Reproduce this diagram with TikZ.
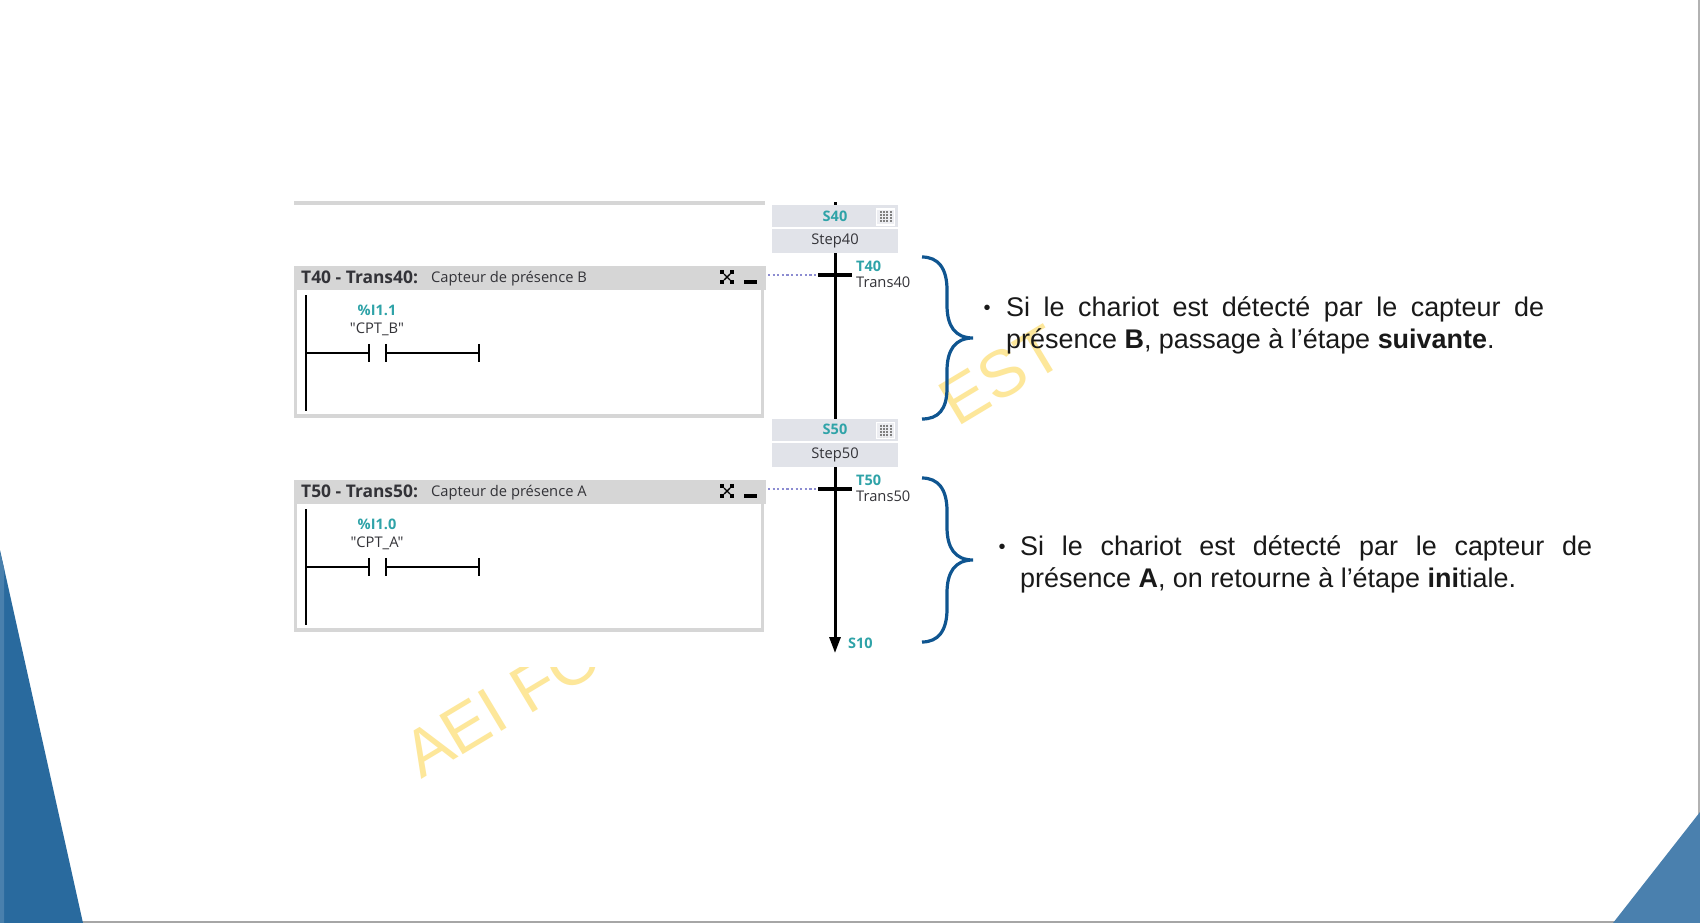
\documentclass[tikz,border=0pt]{standalone}
\usepackage{fontspec}
\setmainfont{Liberation Sans}
\newfontfamily\uifont{Open Sans}
\usetikzlibrary{arrows.meta}
\definecolor{tealtxt}{HTML}{2FA3A8}
\definecolor{uitxt}{HTML}{333338}
\definecolor{stepfill}{HTML}{E1E3E9}
\definecolor{panelgrey}{HTML}{D6D6D6}
\definecolor{bracecol}{HTML}{0F5590}
\definecolor{wm}{HTML}{FDE79A}
\definecolor{leftblue}{HTML}{296A9E}
\definecolor{rightblue}{HTML}{4A80AE}
\tikzset{
  x=1pt,y=-1pt,
  panel/.style={draw=panelgrey,line width=3.5pt,fill=white,minimum width=467pt,minimum height=147.5pt,inner sep=0pt,anchor=north west},
  panelhead/.style={fill=panelgrey,minimum width=472pt,minimum height=24pt,inner sep=0pt,anchor=north west},
  stepcell/.style={fill=stepfill,minimum width=126pt,inner sep=0pt},
  wire/.style={black,line width=3pt},
  thinwire/.style={black,line width=2.8pt},
  uitext/.style={inner sep=0pt,text=uitxt,font=\uifont\fontsize{14.7}{16}\selectfont},
  headtext/.style={inner sep=0pt,anchor=base west,text=uitxt,font=\uifont\fontsize{17.4}{18}\selectfont},
  tealtext/.style={inner sep=0pt,text=tealtxt,font=\uifont\fontsize{14.5}{16}\selectfont\bfseries},
  brace/.style={draw=bracecol,line width=3.2pt},
  bodytext/.style={inner sep=0pt,anchor=north west,align=justify,text=black!90,font=\fontsize{26.95}{31.6}\selectfont},
  bullettext/.style={inner sep=0pt,anchor=base,text=black!90,font=\fontsize{20}{24}\selectfont},
  watermark/.style={inner sep=0pt,text=wm,rotate=31,font=\fontsize{66}{70}\selectfont},
  dots/.style={draw=black!40!blue!45,line width=2.2pt,dash pattern=on 2.2pt off 2.4pt}
}
\newcommand{\gridicon}[2]{%
  \draw[draw=white,line width=1.2pt,fill=stepfill!60!white] (#1-9,#2-8) rectangle (#1+9,#2+8);
  \foreach \i in {-5,-1.7,1.7,5} \draw[black!50,line width=2pt,dash pattern=on 2pt off 1pt] (#1+\i,#2-6) -- (#1+\i,#2+6);
}
\newcommand{\expandicon}[2]{%
  \draw[black,line width=1.4pt] (#1-3,#2-3) -- (#1+3,#2+3) (#1-3,#2+3) -- (#1+3,#2-3);
  \foreach \a/\b in {-1/-1,-1/1,1/-1,1/1} \fill[black] (#1+\a*5-1.6,#2+\b*5-1.6) rectangle (#1+\a*5+1.6,#2+\b*5+1.6);
}
\begin{document}
\begin{tikzpicture}
\useasboundingbox (0,0) rectangle (1700,923);
\fill[white] (0,0) rectangle (1700,923);
% frame of the slide
\fill[black!35] (0,921) rectangle (1700,923);
\fill[black!30] (1698,0) rectangle (1700,923);
% corners
\fill[leftblue] (0,550) -- (83,923) -- (0,923) -- cycle;
\fill[leftblue!85!white] (0,552) -- (4,568) -- (4,923) -- (0,923) -- cycle;
\fill[rightblue] (1700,812) -- (1700,923) -- (1613,923) -- cycle;
% watermark
\node[watermark] (wmest) at (1001,375) {EST};
\begin{scope}
  \clip (380,667) rectangle (640,800);
  \node[watermark,anchor=base west] (wmaei) at (421,780) {AEI FO};
\end{scope}
% top rule
\coordinate (ruleL) at (294,203);
\coordinate (ruleR) at (765,203);
\draw[panelgrey,line width=3.5pt] (ruleL) -- (ruleR);
% panels
\foreach \n/\dy/\tn/\sn/\cap/\addr/\sym in {1/0/T40/Trans40/B/\%I1.1/"CPT\_B",2/214/T50/Trans50/A/\%I1.0/"CPT\_A"}{
  \begin{scope}[yshift=-\dy pt]
  \node[panel] (panel\n) at (293.5,266.5) {};
  \node[panelhead] (head\n) at (294,266) {};
  \node[headtext] (title\n) at (301,283.5) {\textbf{\tn{} - \sn:}};
  \node[uitext,anchor=base west] (desc\n) at (431,282) {Capteur de présence \cap};
  \expandicon{727}{277}
  \fill[black] (744,279.5) rectangle (757,283.5);
  \node[tealtext] (addr\n) at (377,310) {\addr};
  \node[uitext] (sym\n) at (377,329) {\sym};
  \coordinate (railT\n) at (306,295);
  \coordinate (railB\n) at (306,411);
  \coordinate (railM\n) at (306,353);
  \node[minimum height=18pt,minimum width=0pt,inner sep=0pt] (conL\n) at (369,353) {};
  \node[minimum height=18pt,minimum width=0pt,inner sep=0pt] (conR\n) at (386,353) {};
  \node[minimum height=18pt,minimum width=0pt,inner sep=0pt] (endR\n) at (479,353) {};
  \draw[thinwire] (railT\n) -- (railB\n);
  \draw[thinwire] (railM\n) -- (conL\n.center);
  \draw[thinwire] (conR\n.center) -- (endR\n.center);
  \draw[thinwire] (conL\n.north) -- (conL\n.south);
  \draw[thinwire] (conR\n.north) -- (conR\n.south);
  \draw[thinwire] (endR\n.north) -- (endR\n.south);
  \end{scope}
}
% steps
\node[stepcell,minimum height=22pt] (s40) at (835,216) {};
\node[stepcell,minimum height=24pt] (st40) at (835,241) {};
\node[stepcell,minimum height=22pt] (s50) at (835,430) {};
\node[stepcell,minimum height=24pt] (st50) at (835,455) {};
\node[tealtext] at (835,216) {S40};
\node[uitext] at (835,240.5) {Step40};
\node[tealtext] at (835,429.5) {S50};
\node[uitext] at (835,454.5) {Step50};
\gridicon{885.5}{217}
\gridicon{885.5}{430.5}
\coordinate (top40) at (835,202);
\draw[wire] (top40) -- (s40.north);
% vertical lines
\coordinate (arrowtip) at (835,653);
\draw[wire] (st40.south) -- (s50.north);
\draw[wire,-{Triangle[length=16pt,width=11pt]}] (st50.south) -- (arrowtip);
% transitions
\node[fill=black,minimum width=34pt,minimum height=3.8pt,inner sep=0pt] (bar40) at (835,275) {};
\node[fill=black,minimum width=34pt,minimum height=3.8pt,inner sep=0pt] (bar50) at (835,489) {};
\coordinate (dot40) at (768,275);
\coordinate (dot50) at (768,489);
\draw[dots] (dot40) -- (bar40.west);
\draw[dots] (dot50) -- (bar50.west);
\node[tealtext,anchor=west] (lt40) at (856,266.5) {T40};
\node[uitext,anchor=west] (ln40) at (856,282) {Trans40};
\node[tealtext,anchor=west] (lt50) at (856,480) {T50};
\node[uitext,anchor=west] (ln50) at (856,496) {Trans50};
\node[tealtext,anchor=west] (ls10) at (848,643) {S10};
% braces
\draw[brace] (922,257) .. controls (938,257) and (947,268) .. (947,290) -- (947,305)
  .. controls (947,326) and (955,338) .. (973,338)
  .. controls (955,338) and (947,350) .. (947,371) -- (947,388)
  .. controls (947,410) and (938,419) .. (922,419);
\draw[brace] (922,478) .. controls (938,478) and (947,489) .. (947,511) -- (947,527)
  .. controls (947,548) and (955,560) .. (973,560)
  .. controls (955,560) and (947,572) .. (947,593) -- (947,609)
  .. controls (947,631) and (938,642) .. (922,642);
% body text
\node[bullettext] (bu1) at (987,314.5) {•};
\node[bodytext,text width=538pt] (txt1) at (1006,296.5) {Si le chariot est détecté par le capteur de présence \textbf{B}, passage à l’étape \textbf{suivante}.};
\node[bullettext] (bu2) at (1002,553.5) {•};
\node[bodytext,text width=572pt] (txt2) at (1020,535.5) {Si le chariot est détecté par le capteur de présence \textbf{A}, on retourne à l’étape \textbf{ini}tiale.};
\end{tikzpicture}
\end{document}
